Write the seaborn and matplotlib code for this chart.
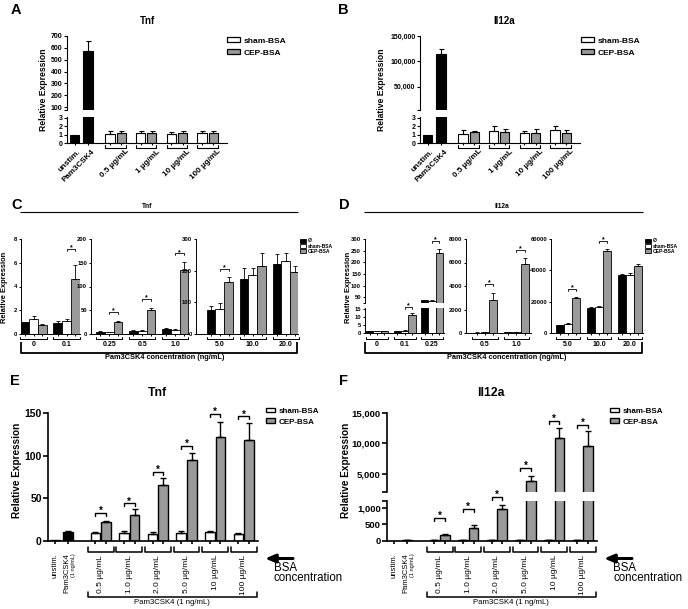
import numpy as np
import pandas as pd
import seaborn as sns
import matplotlib.pyplot as plt
import matplotlib.transforms as mtrans
from matplotlib.patches import Patch
from matplotlib.container import BarContainer

sns.set_style("ticks", rc={"axes.edgecolor": "black", "xtick.color": "black",
                           "ytick.color": "black", "text.color": "black"})
plt.rcParams["font.family"] = ["Liberation Sans", "DejaVu Sans"]
plt.rcParams["font.weight"] = "bold"

W, H = 688, 609
fig = plt.figure(figsize=(W / 100, H / 100), dpi=100)
GRAY = "#9a9a9a"

# ---------- A/B: BSA alone ----------
ctrl_names = ["unstim.", "Pam3CSK4"]
ab_doses = ["0.5 µg/mL", "1 µg/mL", "10 µg/mL", "100 µg/mL"]
tnf_ab_ctrl = [1.0, 570.0]
tnf_ab_ctrl_err = [0.0, 90.0]
tnf_ab_sham = [1.1, 1.2, 1.05, 1.2]
tnf_ab_sham_err = [0.3, 0.2, 0.3, 0.2]
tnf_ab_cep = [1.15, 1.2, 1.15, 1.2]
tnf_ab_cep_err = [0.25, 0.2, 0.25, 0.2]
il_ab_ctrl = [1.0, 115000.0]
il_ab_ctrl_err = [0.0, 10000.0]
il_ab_sham = [1.1, 1.45, 1.2, 1.55]
il_ab_sham_err = [0.4, 0.55, 0.25, 0.45]
il_ab_cep = [1.3, 1.3, 1.2, 1.2]
il_ab_cep_err = [0.15, 0.4, 0.5, 0.4]

# ---------- C/D: Pam3CSK4 dose series ----------
series_cd = ["Ø", "sham-BSA", "CEP-BSA"]
pam_conc = ["0", "0.1", "0.25", "0.5", "1.0", "5.0", "10.0", "20.0"]
tnf_cd_none = [1.0, 0.9, 4, 6, 10, 75, 175, 220]
tnf_cd_none_err = [0, 0.2, 1.5, 2, 3, 15, 35, 32]
tnf_cd_sham = [1.3, 1.1, 3.5, 7, 8, 80, 185, 230]
tnf_cd_sham_err = [0.2, 0.2, 1, 2, 2, 18, 23, 25]
tnf_cd_cep = [0.8, 4.6, 25, 50, 135, 163, 215, 195]
tnf_cd_cep_err = [0.07, 1.2, 3, 4, 17, 18, 40, 20]
tnf_cd_star = {"0.1": 7.2, "0.25": 46, "0.5": 74, "1.0": 170, "5.0": 205}
il_cd_none = [1.0, 1.2, 38, 40, 80, 5000, 16000, 37000]
il_cd_none_err = [0.1, 0.3, 2, 10, 10, 300, 400, 600]
il_cd_sham = [1.0, 1.3, 35, 60, 100, 5500, 16500, 37000]
il_cd_sham_err = [0.1, 0.4, 5, 20, 15, 600, 800, 1500]
il_cd_cep = [1.0, 11, 240, 2800, 5850, 22200, 52500, 43000]
il_cd_cep_err = [0.2, 1.5, 15, 600, 500, 500, 1200, 800]
il_cd_star = {"0.1": 16.5, "0.25": 292, "0.5": 4170, "1.0": 7060, "5.0": 28100, "10.0": 58700}

# ---------- E/F: BSA dose + Pam3CSK4 1 ng/mL ----------
ef_doses = ["0.5 µg/mL", "1.0 µg/mL", "2.0 µg/mL", "5.0 µg/mL", "10 µg/mL", "100 µg/mL"]
tnf_ef_ctrl = [1.0, 10.0]
tnf_ef_ctrl_err = [0.0, 2.0]
tnf_ef_sham = [9, 9, 8, 9, 10, 8]
tnf_ef_sham_err = [1, 3, 2, 2.5, 2, 1.5]
tnf_ef_cep = [22, 30, 66, 95, 122, 118]
tnf_ef_cep_err = [1.5, 8, 8, 8, 18, 20]
tnf_ef_star = [33, 44, 81, 111, 149, 146]
il_ef_ctrl = [1.0, 30.0]
il_ef_ctrl_err = [0.0, 10.0]
il_ef_sham = [25, 30, 20, 30, 25, 30]
il_ef_sham_err = [5, 5, 5, 8, 5, 5]
il_ef_cep = [190, 380, 960, 3800, 10900, 9600]
il_ef_cep_err = [20, 100, 130, 800, 1700, 2400]
il_ef_star = [700, 970, 1330, 6000, 13700, 13000]


# ---------- helpers ----------
def fy(p):
    return 1 - p / H


def new_ax(l, t, r, b):
    return fig.add_axes([l / W, fy(b), (r - l) / W, (b - t) / H])


def xdata_ypx(ax):
    return mtrans.blended_transform_factory(ax.transData, fig.transFigure)


def shift(dx=0, dy=0):
    return mtrans.ScaledTranslation(dx / 100, -dy / 100, fig.dpi_scale_trans)


def px_to_y(ax, px):
    y0, y1 = ax.get_ylim()
    return px * (y1 - y0) / (ax.get_position().height * H)


def fig_line(xs, ys, lw):
    fig.add_artist(plt.Line2D([x / W for x in xs], [fy(y) for y in ys], color="black",
                              lw=lw, transform=fig.transFigure, solid_capstyle="butt"))


def ftext(x, y, s, fs, **kw):
    kw.setdefault("ha", "center")
    kw.setdefault("va", "center")
    fig.text(x / W, fy(y), s, fontsize=fs, **kw)


def bars_of(ax):
    return [c for c in ax.containers if isinstance(c, BarContainer)]


def frame(ax, lw, bottom):
    ax.spines["top"].set_visible(False)
    ax.spines["right"].set_visible(False)
    ax.spines["bottom"].set_visible(bottom)
    for sp in ax.spines.values():
        sp.set_linewidth(lw)
    if not bottom:
        ax.tick_params(axis="x", bottom=False, labelbottom=False)


def yaxis(ax, lim, ticks, labels, fs, lw, tlen):
    ax.set_ylim(*lim)
    ax.set_yticks(ticks)
    ax.set_yticklabels(labels)
    ax.tick_params(axis="y", labelsize=fs, width=lw, length=tlen, pad=1)
    ax.set_ylabel("")
    ax.set_xlabel("")


def errbars(ax, xs, ys, es, lw, cap):
    xs, ys, es = (np.asarray(v, dtype=float) for v in (xs, ys, es))
    keep = es > 0
    ax.errorbar(xs[keep], ys[keep], yerr=[np.zeros(keep.sum()), es[keep]], fmt="none",
                ecolor="black", elinewidth=lw, capsize=cap, capthick=lw)


def star(ax, x0, x1, y, drop, fs, lw, lift):
    d = px_to_y(ax, drop)
    ax.plot([x0, x0, x1, x1], [y - d, y, y, y - d], color="black", lw=lw, clip_on=False)
    ax.text((x0 + x1) / 2, y, "*", ha="center", va="bottom", fontsize=fs,
            transform=ax.transData + shift(0, lift), clip_on=False)


def pick_ax(axes, y):
    for ax in axes:
        if ax.get_ylim()[0] <= y:
            return ax
    return axes[-1]


def legend(x, y, colors, labels, fs, hl, hh, ls, lw):
    handles = [Patch(facecolor=c, edgecolor="black", linewidth=lw) for c in colors]
    fig.legend(handles, labels, loc="upper left", bbox_to_anchor=(x / W, fy(y)),
               frameon=False, fontsize=fs, handlelength=hl, handleheight=hh,
               handletextpad=0.4, labelspacing=ls, borderpad=0, borderaxespad=0)


def bsa_panel(left, right, yspecs, ctrl_x, grp_x, off, wid, xlim, vals, lw, cap, fs, tlen, slw):
    ctrl, ctrl_err, sham, sham_err, cep, cep_err = vals
    axes = []
    for k, (t, b, lim, ticks, labels) in enumerate(yspecs):
        ax = new_ax(left, t, right, b)
        ax.bar(ctrl_x, ctrl, wid, color="black", edgecolor="black", linewidth=lw)
        ax.bar(grp_x - off, sham, wid, color="white", edgecolor="black", linewidth=lw)
        ax.bar(grp_x + off, cep, wid, color=GRAY, edgecolor="black", linewidth=lw)
        errbars(ax, ctrl_x, ctrl, ctrl_err, lw, cap)
        errbars(ax, grp_x - off, sham, sham_err, lw, cap)
        errbars(ax, grp_x + off, cep, cep_err, lw, cap)
        ax.set_xlim(*xlim)
        last = k == len(yspecs) - 1
        frame(ax, slw, last)
        yaxis(ax, lim, ticks, labels, fs, slw, tlen)
        axes.append(ax)
    lo = axes[-1]
    lo.set_xticks(np.concatenate([ctrl_x, grp_x - off, grp_x + off]))
    lo.set_xticklabels([])
    lo.tick_params(axis="x", length=tlen * 0.7, width=slw)
    return axes


def group_brackets(ax, spans, y_top, y_bot, lw):
    tr = xdata_ypx(ax)
    for x0, x1 in spans:
        ax.plot([x0, x0, x1, x1], [fy(y_top), fy(y_bot), fy(y_bot), fy(y_top)],
                transform=tr, color="black", lw=lw, clip_on=False)


# ---------- A / B ----------
ab_ctrl_x = np.array([0.0, 1.3])
ab_grp_x = 4.0 + 3.0 * np.arange(len(ab_doses))
ab_off, ab_w = 0.55, 0.9


def panel_ab(left, up_spec, vals, gene, title_x, ylab_x, leg_x):
    specs = [(36, 110) + up_spec, (117, 143, (0, 3.1), [0, 1, 2, 3], ["0", "1", "2", "3"])]
    axes = bsa_panel(left, left + 160, specs, ab_ctrl_x, ab_grp_x, ab_off, ab_w, (-0.75, 14.9),
                     vals, lw=0.8, cap=1.8, fs=5, tlen=2.2, slw=0.8)
    lo = axes[-1]
    group_brackets(lo, [(g - ab_off - ab_w / 2, g + ab_off + ab_w / 2) for g in ab_grp_x], 144.5, 148, 0.8)
    tr = xdata_ypx(lo)
    for x, name in zip(ab_ctrl_x, ctrl_names):
        lo.text(x, fy(148), name, transform=tr + shift(3, 0), rotation=45, ha="right", va="top",
                rotation_mode="anchor", fontsize=5.8)
    for g, name in zip(ab_grp_x, ab_doses):
        lo.text(g, fy(148), name, transform=tr + shift(10, 0), rotation=45, ha="right", va="top",
                rotation_mode="anchor", fontsize=5.8)
    ftext(title_x, 21, gene, 7)
    ftext(ylab_x, 90, "Relative Expression", 6.2, rotation=90)
    legend(leg_x, 37, ["white", GRAY], ["sham-BSA", "CEP-BSA"], 6, 1.55, 0.6, 0.55, 0.9)


panel_ab(67, ((75, 700), [75] + list(range(100, 701, 100)),
              [""] + [str(v) for v in range(100, 701, 100)]),
         (tnf_ab_ctrl, tnf_ab_ctrl_err, tnf_ab_sham, tnf_ab_sham_err, tnf_ab_cep, tnf_ab_cep_err),
         "Tnf", 147, 43, 227)
panel_ab(420, ((4000, 150000), [4000, 50000, 100000, 150000], ["", "50,000", "100,000", "150,000"]),
         (il_ab_ctrl, il_ab_ctrl_err, il_ab_sham, il_ab_sham_err, il_ab_cep, il_ab_cep_err),
         "Il12a", 504, 382, 581)


# ---------- C / D ----------
def panel_cd(specs, vals, stars, gene, title_x, x_left, x_right, ylab_x, xlab_x, leg_x):
    none, none_err, sham, sham_err, cep, cep_err = vals
    df = pd.DataFrame({"conc": np.repeat(pam_conc, 3),
                       "series": np.tile(series_cd, len(pam_conc)),
                       "val": np.column_stack([none, sham, cep]).ravel()})
    errs = pd.DataFrame({"Ø": none_err, "sham-BSA": sham_err, "CEP-BSA": cep_err}, index=pam_conc)
    pal = dict(zip(series_cd, ["black", "white", GRAY]))
    start = 0
    for sp in specs:
        concs = pam_conc[start:start + sp["n"]]
        start += sp["n"]
        sub = df[df["conc"].isin(concs)]
        right = sp["l"] + (sp["xlim"][1] - sp["xlim"][0]) * sp["unit"]
        axes = []
        for k, (t, b, lim, ticks, labels) in enumerate(sp["ys"]):
            ax = new_ax(sp["l"], t, right, b)
            sns.barplot(data=sub, x="conc", y="val", hue="series", order=concs, hue_order=series_cd,
                        palette=pal, saturation=1, errorbar=None, width=0.8, edgecolor="black",
                        linewidth=0.6, legend=False, ax=ax)
            for s, cont in zip(series_cd, bars_of(ax)):
                errbars(ax, [p.get_x() + p.get_width() / 2 for p in cont],
                        [p.get_height() for p in cont], errs.loc[concs, s].values, 0.6, 1.2)
            ax.set_xlim(*sp["xlim"])
            frame(ax, 0.7, k == len(sp["ys"]) - 1)
            yaxis(ax, lim, ticks, labels, 4.2, 0.7, 1.8)
            axes.append(ax)
        lo = axes[-1]
        lo_bars = bars_of(lo)
        centers = [p.get_x() + p.get_width() / 2 for cont in lo_bars for p in cont]
        lo.set_xticks(centers)
        lo.set_xticklabels([])
        lo.tick_params(axis="x", length=1.3, width=0.7)
        spans = [(lo_bars[0][i].get_x(),
                  lo_bars[2][i].get_x() + lo_bars[2][i].get_width()) for i in range(len(concs))]
        group_brackets(lo, spans, 336.5, 339, 0.7)
        tr = xdata_ypx(lo)
        for (x0, x1), c in zip(spans, concs):
            lo.text((x0 + x1) / 2, fy(344.5), c, transform=tr, ha="center", va="center", fontsize=5)
        for i, c in enumerate(concs):
            if c in stars:
                ax = pick_ax(axes, stars[c])
                ab = bars_of(ax)
                b1, b2 = ab[1][i], ab[2][i]
                star(ax, b1.get_x() + b1.get_width() / 2, b2.get_x() + b2.get_width() / 2,
                     stars[c], 2, 5, 0.6, 2.5)
    ftext(title_x, 207, gene, 4.8)
    fig_line([x_left - 1, x_right + 1], [212, 212], 0.8)
    fig_line([x_left, x_left, x_right, x_right], [342, 353, 353, 342], 1.3)
    ftext(xlab_x, 357.5, "Pam3CSK4 concentration (ng/mL)", 5.3)
    ftext(ylab_x, 287, "Relative Expression", 5.4, rotation=90)
    legend(leg_x, 238.5, ["black", "white", GRAY], series_cd, 3.6, 1.2, 0.75, 0.05, 0.6)


c_specs = [
    dict(n=2, l=21, xlim=(-0.38, 1.42), unit=33, ys=[(239, 334, (0, 8), [0, 2, 4, 6, 8], ["0", "2", "4", "6", "8"])]),
    dict(n=3, l=91, xlim=(-0.55, 2.42), unit=33,
         ys=[(239, 334, (0, 200), [0, 50, 100, 150, 200], ["0", "50", "100", "150", "200"])]),
    dict(n=3, l=196, xlim=(-0.72, 2.38), unit=33,
         ys=[(239, 334, (0, 300), [0, 100, 200, 300], ["0", "100", "200", "300"])]),
]
d_specs = [
    dict(n=3, l=365, xlim=(-0.44, 2.44), unit=27.5,
         ys=[(239, 303, (25, 300), [25, 50, 100, 150, 200, 250, 300], ["", "50", "100", "150", "200", "250", "300"]),
             (308, 333, (0, 15.6), [0, 5, 10, 15], ["0", "5", "10", "15"])]),
    dict(n=2, l=466, xlim=(-0.6, 1.46), unit=31.5,
         ys=[(239, 333, (0, 8000), [0, 2000, 4000, 6000, 8000], ["0", "2000", "4000", "6000", "8000"])]),
    dict(n=3, l=551, xlim=(-0.55, 2.42), unit=31,
         ys=[(239, 333, (0, 60000), [0, 20000, 40000, 60000], ["0", "20000", "40000", "60000"])]),
]
panel_cd(c_specs, (tnf_cd_none, tnf_cd_none_err, tnf_cd_sham, tnf_cd_sham_err, tnf_cd_cep, tnf_cd_cep_err),
         tnf_cd_star, "Tnf", 147.5, 21, 297, 5, 165, 300)
panel_cd(d_specs, (il_cd_none, il_cd_none_err, il_cd_sham, il_cd_sham_err, il_cd_cep, il_cd_cep_err),
         il_cd_star, "Il12a", 501.5, 365, 642, 348, 507, 645)

# ---------- E / F ----------
ef_ctrl_x = np.array([0.0, 1.36])
ef_grp_x = 4.8 + 3.0 * np.arange(len(ef_doses))
ef_off, ef_w = 0.56, 1.0


def panel_ef(left, yspecs, vals, stars, fs, gene, title_x, ylab_x, leg_x):
    axes = bsa_panel(left, left + 210, yspecs, ef_ctrl_x, ef_grp_x, ef_off, ef_w, (-0.73, 21.3),
                     vals, lw=1.0, cap=2.4, fs=fs, tlen=3.5, slw=1.2)
    lo = axes[-1]
    spans = [(g - ef_off - ef_w / 2 - 0.3, g + ef_off + ef_w / 2 + 0.3) for g in ef_grp_x]
    group_brackets(lo, spans, 547, 552, 1.1)
    tr = xdata_ypx(lo)
    lo.text(ef_ctrl_x[0], fy(553), ctrl_names[0], transform=tr, rotation=90, ha="center", va="top",
            fontsize=5.5, fontweight="normal")
    lo.text(ef_ctrl_x[1], fy(553), ctrl_names[1], transform=tr + shift(-1.5, 0), rotation=90,
            ha="center", va="top", fontsize=5.5, fontweight="normal")
    lo.text(ef_ctrl_x[1], fy(553), "(1 ng/mL)", transform=tr + shift(5.5, 0), rotation=90,
            ha="center", va="top", fontsize=4, fontweight="normal")
    for g, name in zip(ef_grp_x, ef_doses):
        lo.text(g, fy(555), name, transform=tr, rotation=90, ha="center", va="top",
                fontsize=6, fontweight="normal")
    x0, x1 = spans[0][0], spans[-1][1]
    lo.plot([x0, x0, x1, x1], [fy(592), fy(597), fy(597), fy(592)], transform=tr, color="black",
            lw=1.1, clip_on=False)
    lo.text((x0 + x1) / 2, fy(603), "Pam3CSK4 (1 ng/mL)", transform=tr, ha="center", va="center",
            fontsize=5.6, fontweight="normal")
    for i, y in enumerate(stars):
        ax = pick_ax(axes, y)
        star(ax, ef_grp_x[i] - ef_off, ef_grp_x[i] + ef_off, y, 3, 7, 1.0, 3)
    # BSA concentration arrow
    lo.annotate("", xy=(left + 217, H - 558.5), xytext=(left + 245, H - 558.5), xycoords="figure pixels",
                textcoords="figure pixels",
                arrowprops=dict(arrowstyle="-|>,head_length=0.6,head_width=0.25", lw=2.2, color="black",
                                shrinkA=0, shrinkB=0, mutation_scale=10))
    ftext(left + 226, 573, "BSA\nconcentration", 8.3, ha="left", fontweight="normal", linespacing=0.85)
    ftext(title_x, 393, gene, 8.8)
    ftext(ylab_x, 470, "Relative Expression", 7.2, rotation=90)
    legend(leg_x, 407.5, ["white", GRAY], ["sham-BSA", "CEP-BSA"], 5.8, 1.15, 0.55, 0.45, 1.0)


panel_ef(48, [(413, 541, (0, 150), [0, 50, 100, 150], ["0", "50", "100", "150"])],
         (tnf_ef_ctrl, tnf_ef_ctrl_err, tnf_ef_sham, tnf_ef_sham_err, tnf_ef_cep, tnf_ef_cep_err),
         tnf_ef_star, 7.5, "Tnf", 157, 17, 266)
panel_ef(387, [(413, 492, (2000, 15000), [2000, 5000, 10000, 15000], ["", "5,000", "10,000", "15,000"]),
               (501, 541, (0, 1200), [0, 500, 1000, 1200], ["0", "500", "1,000", ""])],
         (il_ef_ctrl, il_ef_ctrl_err, il_ef_sham, il_ef_sham_err, il_ef_cep, il_ef_cep_err),
         il_ef_star, 6.8, "Il12a", 491, 346, 610)

# panel letters
for letter, x, y in [("A", 16, 10), ("B", 343, 10), ("C", 17, 205), ("D", 344, 205),
                     ("E", 15, 381), ("F", 343, 381)]:
    ftext(x, y, letter, 10.5)

fig.savefig("out.png", dpi=100)
